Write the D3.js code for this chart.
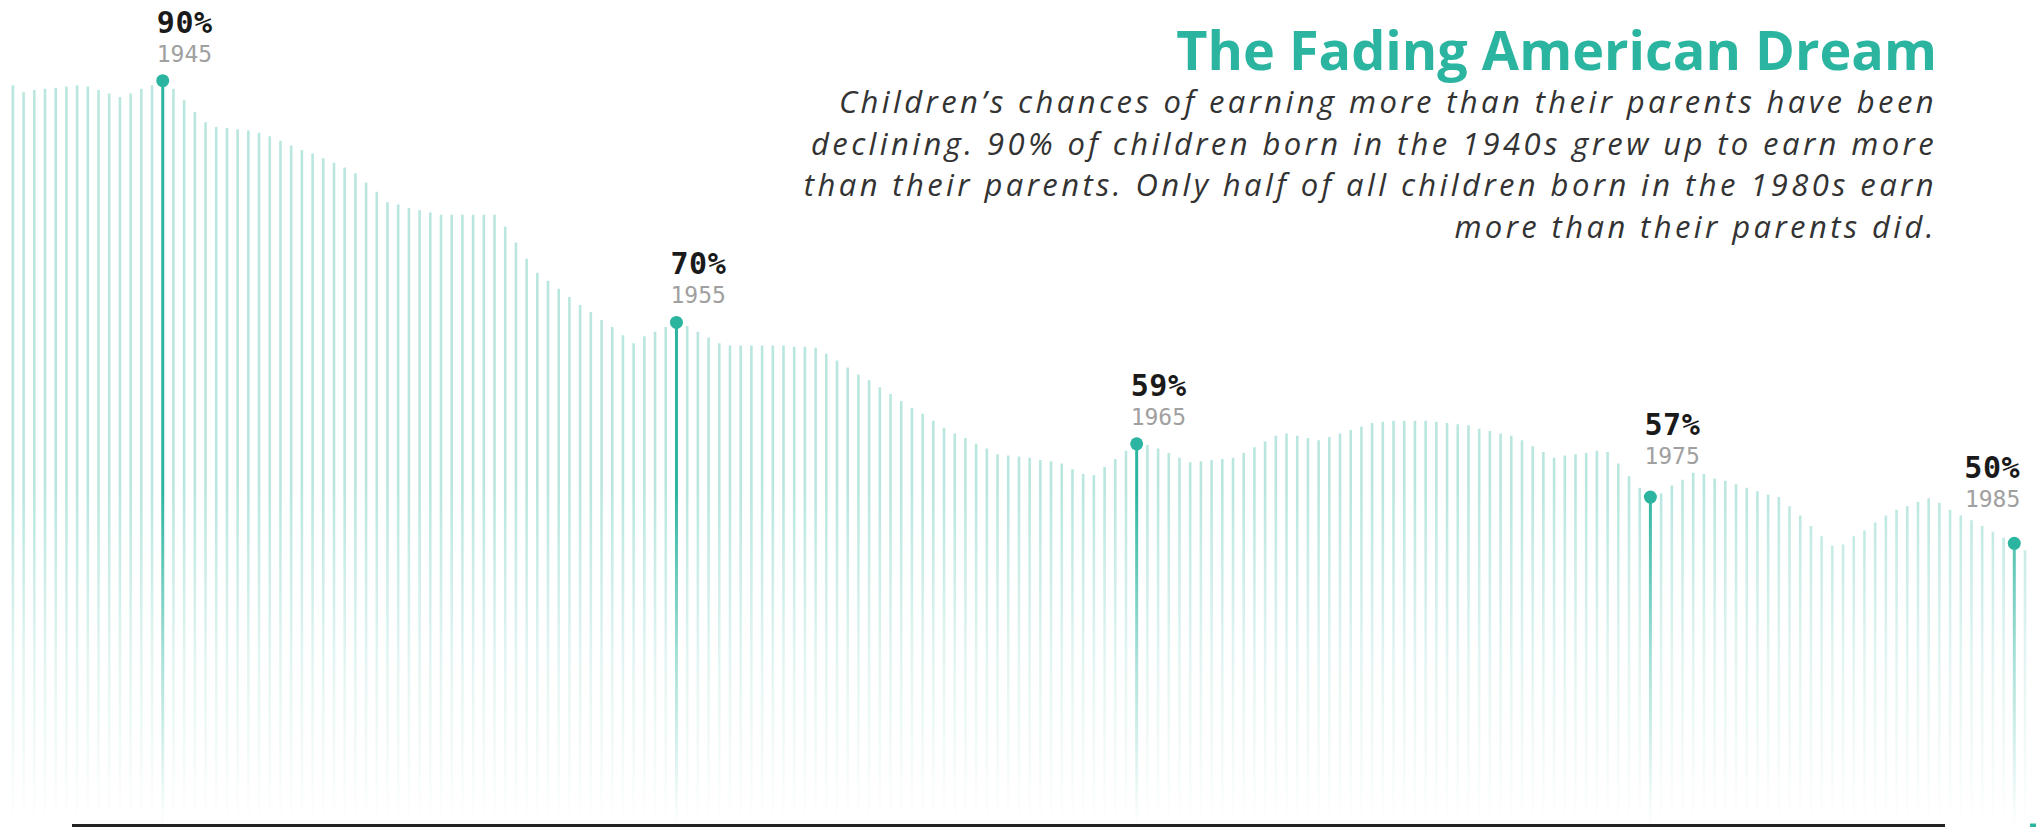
<!DOCTYPE html>
<html>
<head>
<meta charset="utf-8">
<script src="https://cdn.jsdelivr.net/npm/d3@7"></script>
<style>
  html, body { margin: 0; padding: 0; background: #fff; overflow: hidden; }
  svg { display: block; }
</style>
</head>
<body>
<svg id="chart" width="2036" height="827"></svg>
<script>
// ---- data ----
const values = [
  89.6, 89.0, 89.2, 89.3, 89.4, 89.5, 89.6, 89.5, 89.2, 88.9,
  88.6, 88.9, 89.3, 89.6, 90.0, 89.3, 88.3, 87.3, 86.4, 86.0,
  85.9, 85.8, 85.7, 85.5, 85.2, 84.8, 84.4, 84.0, 83.7, 83.3,
  82.9, 82.5, 82.0, 81.2, 80.4, 79.5, 79.3, 79.0, 78.8, 78.6,
  78.4, 78.4, 78.4, 78.4, 78.4, 78.4, 77.4, 76.0, 74.6, 73.4,
  72.7, 72.0, 71.3, 70.6, 70.0, 69.3, 68.7, 68.0, 67.3, 67.9,
  68.3, 68.7, 69.1, 68.8, 68.3, 67.8, 67.3, 67.1, 67.1, 67.1,
  67.1, 67.1, 67.1, 67.0, 67.0, 66.9, 66.4, 65.8, 65.2, 64.6,
  64.1, 63.5, 62.9, 62.3, 61.7, 61.2, 60.6, 60.0, 59.5, 59.1,
  58.6, 58.2, 57.7, 57.6, 57.5, 57.4, 57.2, 57.1, 56.9, 56.4,
  56.0, 55.9, 56.6, 57.3, 58.0, 58.6, 58.5, 58.2, 57.8, 57.4,
  57.0, 57.1, 57.2, 57.3, 57.4, 57.8, 58.3, 58.8, 59.3, 59.5,
  59.3, 59.1, 58.9, 59.2, 59.5, 59.8, 60.1, 60.4, 60.5, 60.6,
  60.6, 60.6, 60.6, 60.5, 60.4, 60.3, 60.2, 59.9, 59.7, 59.5,
  59.3, 58.9, 58.4, 57.9, 57.4, 57.6, 57.7, 57.8, 58.0, 57.9,
  56.9, 55.8, 54.8, 54.0, 54.3, 55.0, 55.5, 56.1, 56.0, 55.6,
  55.4, 55.1, 54.8, 54.5, 54.2, 54.0, 53.2, 52.4, 51.5, 50.6,
  49.8, 49.9, 50.6, 51.1, 51.8, 52.4, 52.9, 53.2, 53.6, 53.9,
  53.5, 52.9, 52.4, 52.0, 51.5, 51.0, 50.5, 50.0, 49.4
];
const highlightIndex = [14, 62, 105, 153, 187];
const highlightYears = ["1945", "1955", "1965", "1975", "1985"];
const highlightLabels = ["90%", "70%", "59%", "57%", "50%"];

const titleText = "The Fading American Dream";
const subtitleLines = [
  "Children\u2019s chances of earning more than their parents have been",
  "declining. 90% of children born in the 1940s grew up to earn more",
  "than their parents. Only half of all children born in the 1980s earn",
  "more than their parents did."
];

// ---- setup ----
const W = 2036, H = 827;
const teal = "#2bb5a0";
const svg = d3.select("#chart");

const x = d3.scalePoint()
  .domain(d3.range(values.length))
  .range([12.9, 2025]);

const y = d3.scaleLinear()
  .domain([50, 90])
  .range([543.3, 80.7]);

const bottomY = 826;

const defs = svg.append("defs");
function grad(id, op) {
  const g = defs.append("linearGradient")
    .attr("id", id)
    .attr("gradientUnits", "userSpaceOnUse")
    .attr("x1", 0).attr("x2", 0)
    .attr("y1", 80).attr("y2", bottomY);
  g.append("stop").attr("offset", 0).attr("stop-color", teal).attr("stop-opacity", op);
  g.append("stop").attr("offset", 0.55).attr("stop-color", teal).attr("stop-opacity", op);
  g.append("stop").attr("offset", 0.78).attr("stop-color", teal).attr("stop-opacity", op * 0.4);
  g.append("stop").attr("offset", 1).attr("stop-color", teal).attr("stop-opacity", 0);
}
grad("fadeLight", 0.33);
grad("fadeStrong", 1);

const hiSet = new Set(highlightIndex);

svg.append("g").selectAll("line")
  .data(values.map((v, i) => ({ v, i })).filter(d => !hiSet.has(d.i)))
  .join("line")
  .attr("x1", d => x(d.i)).attr("x2", d => x(d.i))
  .attr("y1", d => y(d.v)).attr("y2", bottomY)
  .attr("stroke", "url(#fadeLight)")
  .attr("stroke-width", 2.6);

const labelW = 60;
const hi = highlightIndex.map((idx, k) => {
  const cx = x(idx), cy = y(values[idx]);
  const edge = cx + labelW + 10 > W;
  const left = edge ? cx + 6 - labelW : cx - 6;
  const right = left + labelW;
  // highest line top under the label's span
  let minTop = cy;
  values.forEach((v, i) => {
    if (x(i) >= left && x(i) <= right) minTop = Math.min(minTop, y(v));
  });
  const base = Math.min(cy - 48, minTop - 38);
  return { i: idx, cx, cy, edge, base, year: highlightYears[k], label: highlightLabels[k] };
});

const hg = svg.append("g").selectAll("g").data(hi).join("g");
hg.append("line")
  .attr("x1", d => d.cx).attr("x2", d => d.cx)
  .attr("y1", d => d.cy).attr("y2", bottomY)
  .attr("stroke", "url(#fadeStrong)")
  .attr("stroke-width", 3);
hg.append("circle")
  .attr("cx", d => d.cx).attr("cy", d => d.cy)
  .attr("r", 6.5).attr("fill", teal);

hg.append("text")
  .attr("x", d => d.edge ? d.cx + 6 : d.cx - 6)
  .attr("y", d => d.base)
  .attr("text-anchor", d => d.edge ? "end" : "start")
  .attr("font-family", "DejaVu Sans Mono")
  .attr("font-weight", "bold")
  .attr("font-size", 30)
  .attr("letter-spacing", 0.6)
  .attr("fill", "#1a1a1a")
  .text(d => d.label);
hg.append("text")
  .attr("x", d => d.edge ? d.cx + 6 : d.cx - 6)
  .attr("y", d => d.base + 29)
  .attr("text-anchor", d => d.edge ? "end" : "start")
  .attr("font-family", "DejaVu Sans Mono")
  .attr("font-size", 23)
  .attr("fill", "#a0a0a0")
  .text(d => d.year);

// bottom rule
svg.append("line")
  .attr("x1", 72).attr("x2", 1945)
  .attr("y1", 825.5).attr("y2", 825.5)
  .attr("stroke", "#222").attr("stroke-width", 3);
svg.append("rect")
  .attr("x", 2030).attr("y", 823.5)
  .attr("width", 6).attr("height", 3.5)
  .attr("fill", teal);

// title & subtitle
svg.append("text")
  .attr("x", 1937).attr("y", 70)
  .attr("text-anchor", "end")
  .attr("font-family", "Open Sans")
  .attr("font-weight", "bold")
  .attr("font-size", 54)
  .attr("fill", teal)
  .text(titleText);

svg.append("g").selectAll("text")
  .data(subtitleLines)
  .join("text")
  .attr("x", 1937)
  .attr("y", (d, i) => 113 + i * 41.6)
  .attr("text-anchor", "end")
  .attr("font-family", "Open Sans")
  .attr("font-style", "italic")
  .attr("font-size", 31)
  .attr("letter-spacing", 3.4)
  .attr("fill", "#333")
  .text(d => d);
</script>
</body>
</html>
